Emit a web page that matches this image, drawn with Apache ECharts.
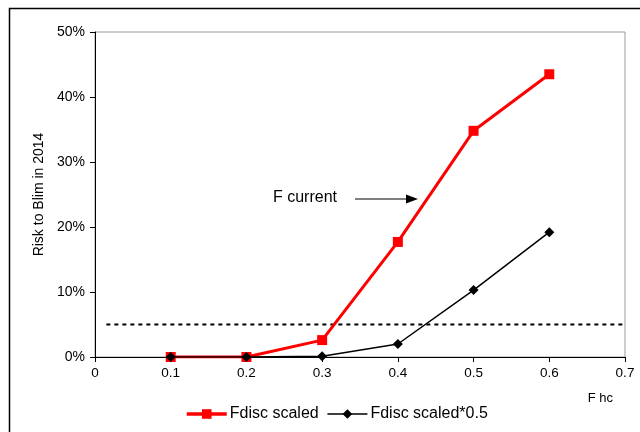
<!DOCTYPE html>
<html><head><meta charset="utf-8">
<script src="https://cdn.jsdelivr.net/npm/echarts@6/dist/echarts.min.js"></script>
<style>html,body{margin:0;padding:0;background:#fff}#c{width:640px;height:432px}</style>
</head><body><div id="c"></div>
<script>
const fhc = [0.1, 0.2, 0.3, 0.4, 0.5, 0.6];
const fdiscScaled = [0.000, 0.000, 0.026, 0.177, 0.348, 0.435];
const fdiscScaledHalf = [0.000, 0.000, 0.001, 0.020, 0.103, 0.192];
const threshold = 0.05;
const thresholdRange = [0.015, 0.7];
const seriesNames = ['Fdisc scaled', 'Fdisc scaled*0.5'];

const font = 'Liberation Sans, Arial, sans-serif';
const chart = echarts.init(document.getElementById('c'));
chart.setOption({
  animation: false,
  backgroundColor: '#fff',
  textStyle: {fontFamily: font},
  grid: {left: 95, right: 15, top: 32, bottom: 75, show: true, borderColor: '#9a9a9a', borderWidth: 1},
  xAxis: {
    type: 'value', min: 0, max: 0.7, interval: 0.1,
    name: 'F hc', nameLocation: 'end', nameGap: 0,
    nameTextStyle: {color: '#000', fontSize: 13, align: 'right', verticalAlign: 'top', padding: [35, 12, 0, 0]},
    axisLine: {lineStyle: {color: '#000', width: 1}},
    axisTick: {show: true, length: 5, lineStyle: {color: '#000'}},
    splitLine: {show: false},
    axisLabel: {color: '#000', fontSize: 13.5, margin: 9, formatter: v => v === 0 ? '0' : v.toFixed(1)}
  },
  yAxis: {
    type: 'value', min: 0, max: 0.5, interval: 0.1,
    name: 'Risk to Blim in 2014', nameLocation: 'middle', nameGap: 49, nameRotate: 90,
    nameTextStyle: {color: '#000', fontSize: 14},
    axisLine: {show: true, lineStyle: {color: '#000', width: 1}},
    axisTick: {show: true, length: 5, lineStyle: {color: '#000'}},
    splitLine: {show: false},
    axisLabel: {color: '#000', fontSize: 14, margin: 10, formatter: v => Math.round(v * 100) + '%'}
  },
  legend: {
    data: [
      {name: seriesNames[0], lineStyle: {width: 3.5}},
      {name: seriesNames[1], lineStyle: {width: 1.5}}
    ],
    top: 401, left: 180, itemGap: 8, itemWidth: 40, itemHeight: 12,
    textStyle: {color: '#000', fontSize: 16, fontFamily: font, padding: [0, 0, 0, -2]}
  },
  graphic: [
    {type: 'rect', left: 7, top: 6, shape: {width: 700, height: 500}, style: {fill: 'none', stroke: '#000', lineWidth: 1.5}, silent: true},
    {type: 'text', left: 273, top: 190, style: {text: 'F current', fontSize: 16, fontFamily: font, fill: '#000'}},
    {type: 'line', shape: {x1: 355, y1: 199, x2: 408, y2: 199}, style: {stroke: '#000', lineWidth: 1.2}},
    {type: 'polygon', shape: {points: [[418, 199], [406, 194.5], [406, 203.5]]}, style: {fill: '#000'}}
  ],
  series: [
    {
      name: seriesNames[0], type: 'line', data: fhc.map((x, i) => [x, fdiscScaled[i]]),
      lineStyle: {color: '#ff0000', width: 3}, itemStyle: {color: '#ff0000'},
      symbol: 'rect', symbolSize: 10, z: 3
    },
    {
      name: seriesNames[1], type: 'line', data: fhc.map((x, i) => [x, fdiscScaledHalf[i]]),
      lineStyle: {color: '#000', width: 1.5}, itemStyle: {color: '#000'},
      symbol: 'diamond', symbolSize: 10, z: 4
    },
    {
      name: 'threshold', type: 'line', data: thresholdRange.map(x => [x, threshold]),
      symbol: 'none', silent: true,
      lineStyle: {color: '#000', width: 2, type: [4, 4]}, z: 2
    }
  ]
});
</script></body></html>
